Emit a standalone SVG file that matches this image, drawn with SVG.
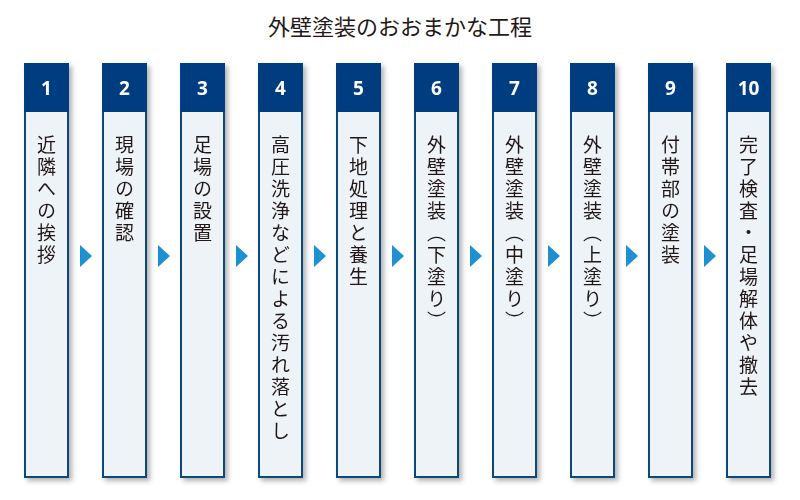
<svg xmlns="http://www.w3.org/2000/svg" width="800" height="500" viewBox="0 0 800 500">
<defs>
<filter id="sh" x="-30%" y="-10%" width="160%" height="120%"><feDropShadow dx="3" dy="3" stdDeviation="2.5" flood-color="#000" flood-opacity="0.3"/></filter>
<style>
.hd{fill:#003d80}
.pn{fill:#eef3f8;stroke:#0d4a78;stroke-width:2}
.num{font-family:"Open Sans","Liberation Sans",sans-serif;font-weight:bold;font-size:19px;fill:#fff;text-anchor:middle}
.lb{font-family:"Noto Sans CJK JP",sans-serif;font-size:19px;fill:#231815;writing-mode:vertical-rl;letter-spacing:3px}
.ar{fill:#1e8fd0}
</style>
</defs>
<rect width="800" height="500" fill="#fff"/>
<text x="400" y="35" text-anchor="middle" font-family="Noto Sans CJK JP,sans-serif" font-size="22" fill="#231815">外壁塗装のおおまかな工程</text>
<g id="connectors">
<polygon class="ar" points="80,245 92,256 80,267"/>
<polygon class="ar" points="158,245 170,256 158,267"/>
<polygon class="ar" points="236,245 248,256 236,267"/>
<polygon class="ar" points="314,245 326,256 314,267"/>
<polygon class="ar" points="392,245 404,256 392,267"/>
<polygon class="ar" points="470,245 482,256 470,267"/>
<polygon class="ar" points="548,245 560,256 548,267"/>
<polygon class="ar" points="626,245 638,256 626,267"/>
<polygon class="ar" points="704,245 716,256 704,267"/>
</g>
<g id="n1" transform="translate(24,0)" filter="url(#sh)"><rect class="pn" x="1" y="110" width="43" height="367"/><rect class="hd" x="0" y="63" width="45" height="49"/><text class="num" x="22.5" y="95">1</text><text class="lb" x="22.5" y="135">近隣への挨拶</text></g>
<g id="n2" transform="translate(102,0)" filter="url(#sh)"><rect class="pn" x="1" y="110" width="43" height="367"/><rect class="hd" x="0" y="63" width="45" height="49"/><text class="num" x="22.5" y="95">2</text><text class="lb" x="22.5" y="135">現場の確認</text></g>
<g id="n3" transform="translate(180,0)" filter="url(#sh)"><rect class="pn" x="1" y="110" width="43" height="367"/><rect class="hd" x="0" y="63" width="45" height="49"/><text class="num" x="22.5" y="95">3</text><text class="lb" x="22.5" y="135">足場の設置</text></g>
<g id="n4" transform="translate(258,0)" filter="url(#sh)"><rect class="pn" x="1" y="110" width="43" height="367"/><rect class="hd" x="0" y="63" width="45" height="49"/><text class="num" x="22.5" y="95">4</text><text class="lb" x="22.5" y="135">高圧洗浄などによる汚れ落とし</text></g>
<g id="n5" transform="translate(336,0)" filter="url(#sh)"><rect class="pn" x="1" y="110" width="43" height="367"/><rect class="hd" x="0" y="63" width="45" height="49"/><text class="num" x="22.5" y="95">5</text><text class="lb" x="22.5" y="135">下地処理と養生</text></g>
<g id="n6" transform="translate(414,0)" filter="url(#sh)"><rect class="pn" x="1" y="110" width="43" height="367"/><rect class="hd" x="0" y="63" width="45" height="49"/><text class="num" x="22.5" y="95">6</text><text class="lb" x="22.5" y="135">外壁塗装（下塗り）</text></g>
<g id="n7" transform="translate(492,0)" filter="url(#sh)"><rect class="pn" x="1" y="110" width="43" height="367"/><rect class="hd" x="0" y="63" width="45" height="49"/><text class="num" x="22.5" y="95">7</text><text class="lb" x="22.5" y="135">外壁塗装（中塗り）</text></g>
<g id="n8" transform="translate(570,0)" filter="url(#sh)"><rect class="pn" x="1" y="110" width="43" height="367"/><rect class="hd" x="0" y="63" width="45" height="49"/><text class="num" x="22.5" y="95">8</text><text class="lb" x="22.5" y="135">外壁塗装（上塗り）</text></g>
<g id="n9" transform="translate(648,0)" filter="url(#sh)"><rect class="pn" x="1" y="110" width="43" height="367"/><rect class="hd" x="0" y="63" width="45" height="49"/><text class="num" x="22.5" y="95">9</text><text class="lb" x="22.5" y="135">付帯部の塗装</text></g>
<g id="n10" transform="translate(726,0)" filter="url(#sh)"><rect class="pn" x="1" y="110" width="43" height="367"/><rect class="hd" x="0" y="63" width="45" height="49"/><text class="num" x="22.5" y="95">10</text><text class="lb" x="22.5" y="135">完了検査・足場解体や撤去</text></g>
</svg>
